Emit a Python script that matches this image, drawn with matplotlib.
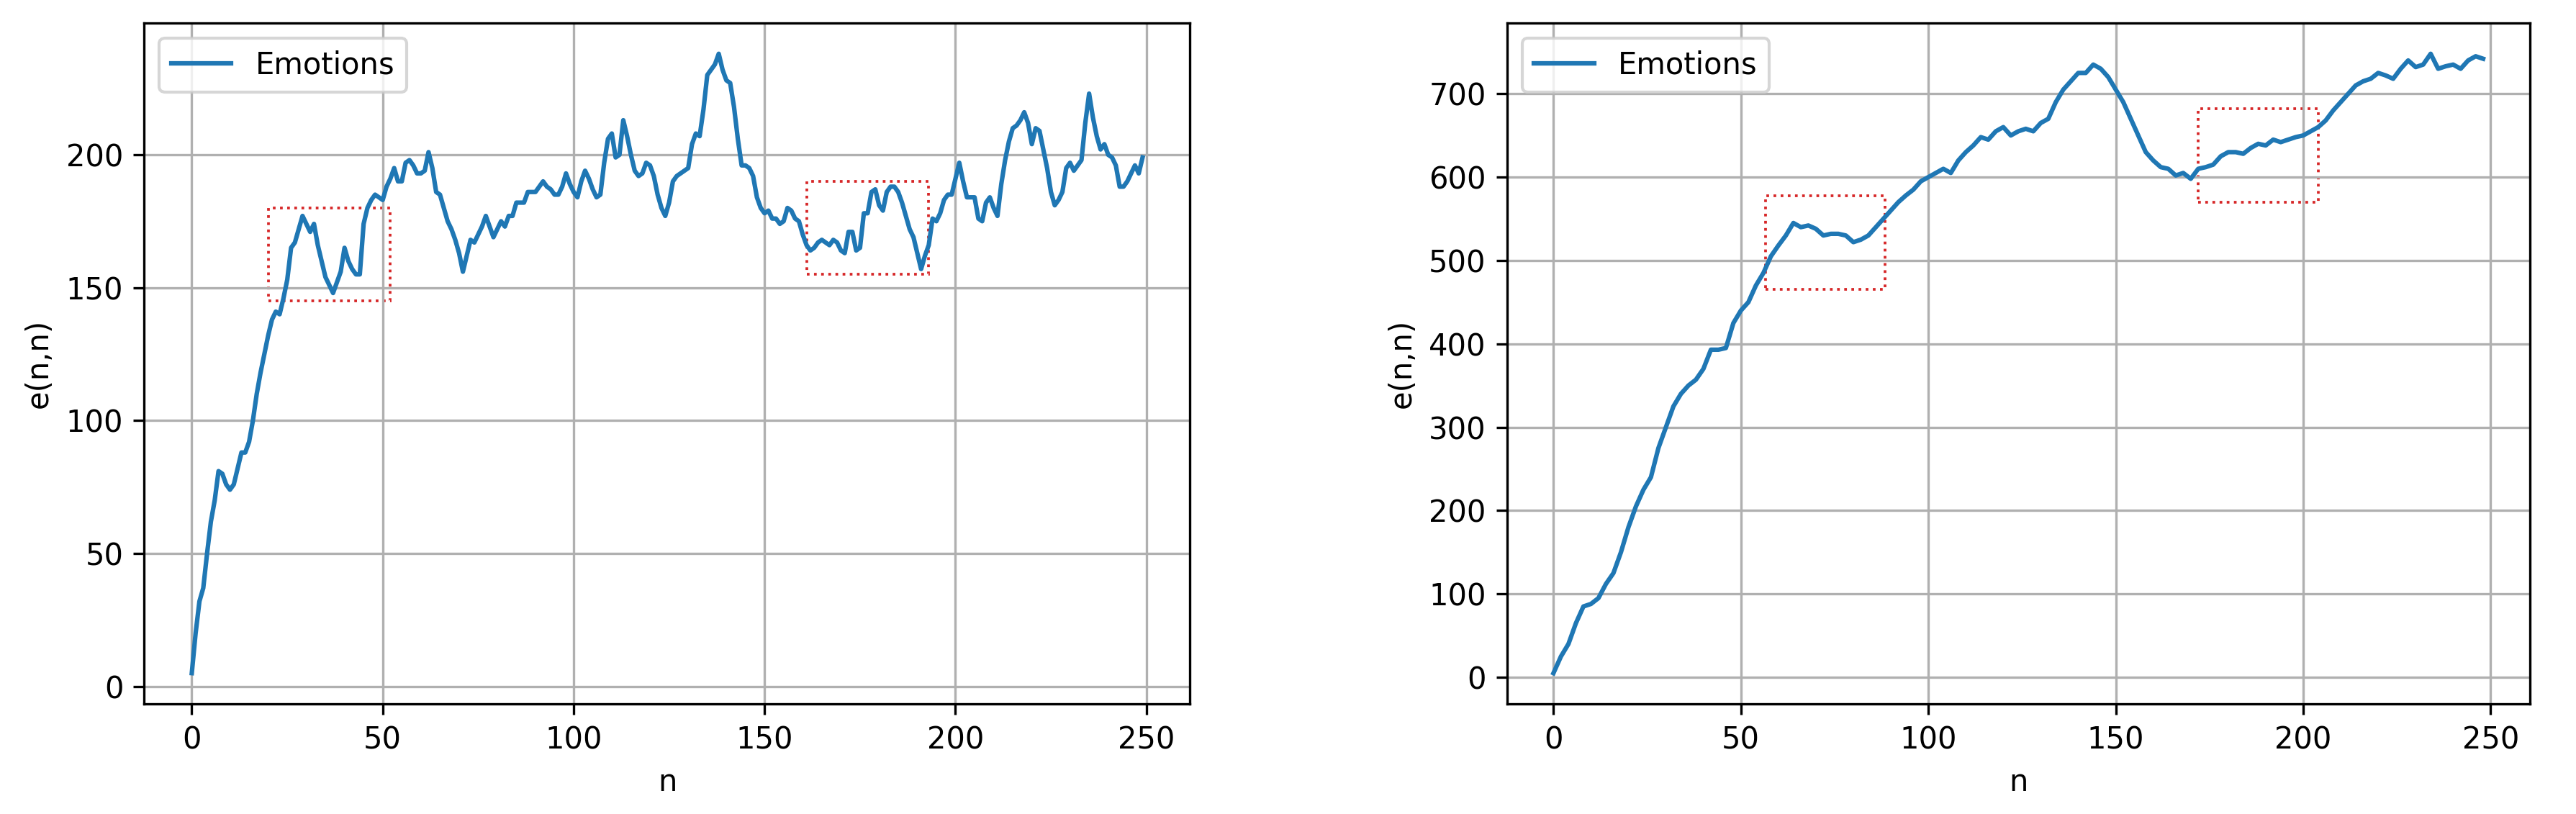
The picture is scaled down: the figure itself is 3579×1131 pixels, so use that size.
import numpy as np
import matplotlib.pyplot as plt
from matplotlib.patches import Rectangle

# left panel: e(n,n) for n = 0..248
left_vals = [
    5, 20, 32, 37, 50, 62, 70, 81, 80, 76, 74, 76, 82, 88, 88, 92, 100, 110, 118, 125,
    132, 138, 141, 140, 146, 153, 165, 167, 172, 177, 174, 171, 174, 166, 160, 154, 151, 148, 152, 156,
    165, 160, 157, 155, 155, 174, 180, 183, 185, 184, 183, 188, 191, 195, 190, 190, 197, 198, 196, 193,
    193, 194, 201, 195, 186, 185, 180, 175, 172, 168, 163, 156, 162, 168, 167, 170, 173, 177, 173, 169,
    172, 175, 173, 177, 177, 182, 182, 182, 186, 186, 186, 188, 190, 188, 187, 185, 185, 188, 193, 189,
    186, 184, 190, 194, 191, 187, 184, 185, 197, 206, 208, 199, 200, 213, 207, 200, 194, 192, 193, 197,
    196, 192, 185, 180, 177, 182, 190, 192, 193, 194, 195, 204, 208, 207, 217, 230, 232, 234, 238, 232,
    228, 227, 218, 206, 196, 196, 195, 192, 184, 180, 178, 179, 176, 176, 174, 175, 180, 179, 176, 175,
    170, 166, 164, 165, 167, 168, 167, 166, 168, 167, 164, 163, 171, 171, 164, 165, 178, 178, 186, 187,
    181, 179, 186, 188, 188, 186, 182, 177, 172, 169, 163, 157, 162, 166, 176, 175, 178, 183, 185, 185,
    191, 197, 190, 184, 184, 184, 176, 175, 182, 184, 180, 177, 189, 198, 205, 210, 211, 213, 216, 212,
    204, 210, 209, 202, 195, 186, 181, 183, 186, 195, 197, 194, 196, 198, 212, 223, 214, 207, 202, 204,
    200, 199, 196, 188, 188, 190, 193, 196, 193, 199,
]
left_n = np.arange(len(left_vals))

# right panel: e(n,n) read every 2 steps
right_n = np.arange(0, 250, 2)
right_vals = [
    5, 25, 40, 65, 85, 88, 95, 112, 125, 150, 180, 205, 225, 240, 275, 300, 325, 340, 350, 357,
    370, 393, 393, 395, 425, 440, 450, 470, 485, 505, 518, 530, 545, 540, 542, 538, 530, 532, 532, 530,
    522, 525, 530, 540, 550, 560, 570, 578, 585, 595, 600, 605, 610, 605, 620, 630, 638, 648, 645, 655,
    660, 650, 655, 658, 655, 665, 670, 690, 705, 715, 725, 725, 735, 730, 720, 705, 690, 670, 650, 630,
    620, 612, 610, 602, 605, 598, 610, 612, 615, 625, 630, 630, 628, 635, 640, 638, 645, 642, 645, 648,
    650, 655, 660, 668, 680, 690, 700, 710, 715, 718, 725, 722, 718, 730, 740, 732, 735, 748, 730, 733,
    735, 730, 740, 745, 742,
]

# dotted boxes: (x0, x1, y0, y1)
left_boxes = [(20, 52, 145, 180), (161, 193, 155, 190)]
right_boxes = [(56.5, 88.5, 465, 578), (172, 204, 570, 682)]

fig = plt.figure(figsize=(11.93, 3.77), dpi=300)
ax1 = fig.add_axes([0.056, 0.135, 0.406, 0.837])
ax2 = fig.add_axes([0.585, 0.135, 0.397, 0.837])

for ax, n, v, boxes in [(ax1, left_n, left_vals, left_boxes),
                        (ax2, right_n, right_vals, right_boxes)]:
    ax.plot(n, v, label="Emotions")
    for x0, x1, y0, y1 in boxes:
        ax.add_patch(Rectangle((x0, y0), x1 - x0, y1 - y0, fill=False,
                               edgecolor="tab:red", linestyle=":", linewidth=0.9))
    ax.set_xlabel("n")
    ax.set_ylabel("e(n,n)")
    ax.grid(True)
    ax.legend(loc="upper left")
    ax.set_xticks([0, 50, 100, 150, 200, 250])

ax2.set_yticks(range(0, 800, 100))

fig.savefig("out.png", dpi=300)
